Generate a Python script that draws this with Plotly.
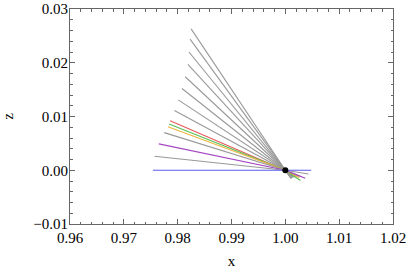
import plotly.graph_objects as go

FONT = 'Times New Roman, Liberation Serif, serif'

# line start points (left), each line passes through the fixed point (1, 0)
x_start = [0.9825, 0.9823, 0.9821, 0.9819, 0.9814, 0.9808, 0.9801, 0.9794,
           0.9786, 0.9784, 0.9782, 0.9775, 0.9765, 0.9757, 0.9754]
z_start = [0.0263, 0.0244, 0.0220, 0.0197, 0.0174, 0.0152, 0.0131, 0.0111,
           0.0092, 0.0086, 0.0081, 0.0070, 0.0049, 0.0026, 0.0000]
# line end points (right of the fixed point)
x_end = [1.0010, 1.0011, 1.0012, 1.0013, 1.0014, 1.0016, 1.0018, 1.0020,
         1.0025, 1.0028, 1.0026, 1.0030, 1.0037, 1.0043, 1.0048]
z_end = [-0.0015, -0.0015, -0.0015, -0.0014, -0.0013, -0.0013, -0.0012, -0.0011,
         -0.0011, -0.0019, -0.0014, -0.0012, -0.0015, -0.0007, 0.0000]
line_colors = ['#999999'] * 8 + ['#e85a5a', '#55c255', '#eeb440', '#999999',
                                  '#a445c2', '#999999', '#5a5af0']
fixed_x = [1.0]
fixed_z = [0.0]

fig = go.Figure()
for x0, z0, x1, z1, c in zip(x_start, z_start, x_end, z_end, line_colors):
    fig.add_trace(go.Scatter(
        x=[x0, fixed_x[0], x1], y=[z0, fixed_z[0], z1], mode='lines',
        line=dict(color=c, width=1.1), showlegend=False, hoverinfo='skip'))

fig.add_trace(go.Scatter(
    x=fixed_x, y=fixed_z, mode='markers',
    marker=dict(color='black', size=6), showlegend=False, hoverinfo='skip'))

axis_common = dict(
    showgrid=False, zeroline=False, showline=True, linecolor='#666666', linewidth=1,
    mirror='allticks', ticks='inside', ticklen=5, tickcolor='#666666', automargin=False,
    ticklabeloverflow='allow',
    tickfont=dict(family=FONT, size=15, color='black'),
    minor=dict(ticks='inside', ticklen=2.5, tickcolor='#666666'))

fig.update_layout(
    width=407, height=275, plot_bgcolor='white', paper_bgcolor='white',
    margin=dict(l=70, r=14, t=9, b=51),
    font=dict(family=FONT, color='black'),
    xaxis=dict(**axis_common, range=[0.96, 1.02], dtick=0.01, tickformat='.2f',
               title=dict(text='x', font=dict(family=FONT, size=15), standoff=10)),
    yaxis=dict(**axis_common, range=[-0.01, 0.03], dtick=0.01, tickformat='.2f',
               ticklabelstandoff=-2,
               title=dict(text='z', font=dict(family=FONT, size=15), standoff=22)),
)
fig.update_xaxes(minor_dtick=0.002)
fig.update_yaxes(minor_dtick=0.002)

# drop the default 8px page margin so the figure sits at the window corner
fig.write_html('out.html', config={'displayModeBar': False},
               post_script="document.body.style.margin='0';")
